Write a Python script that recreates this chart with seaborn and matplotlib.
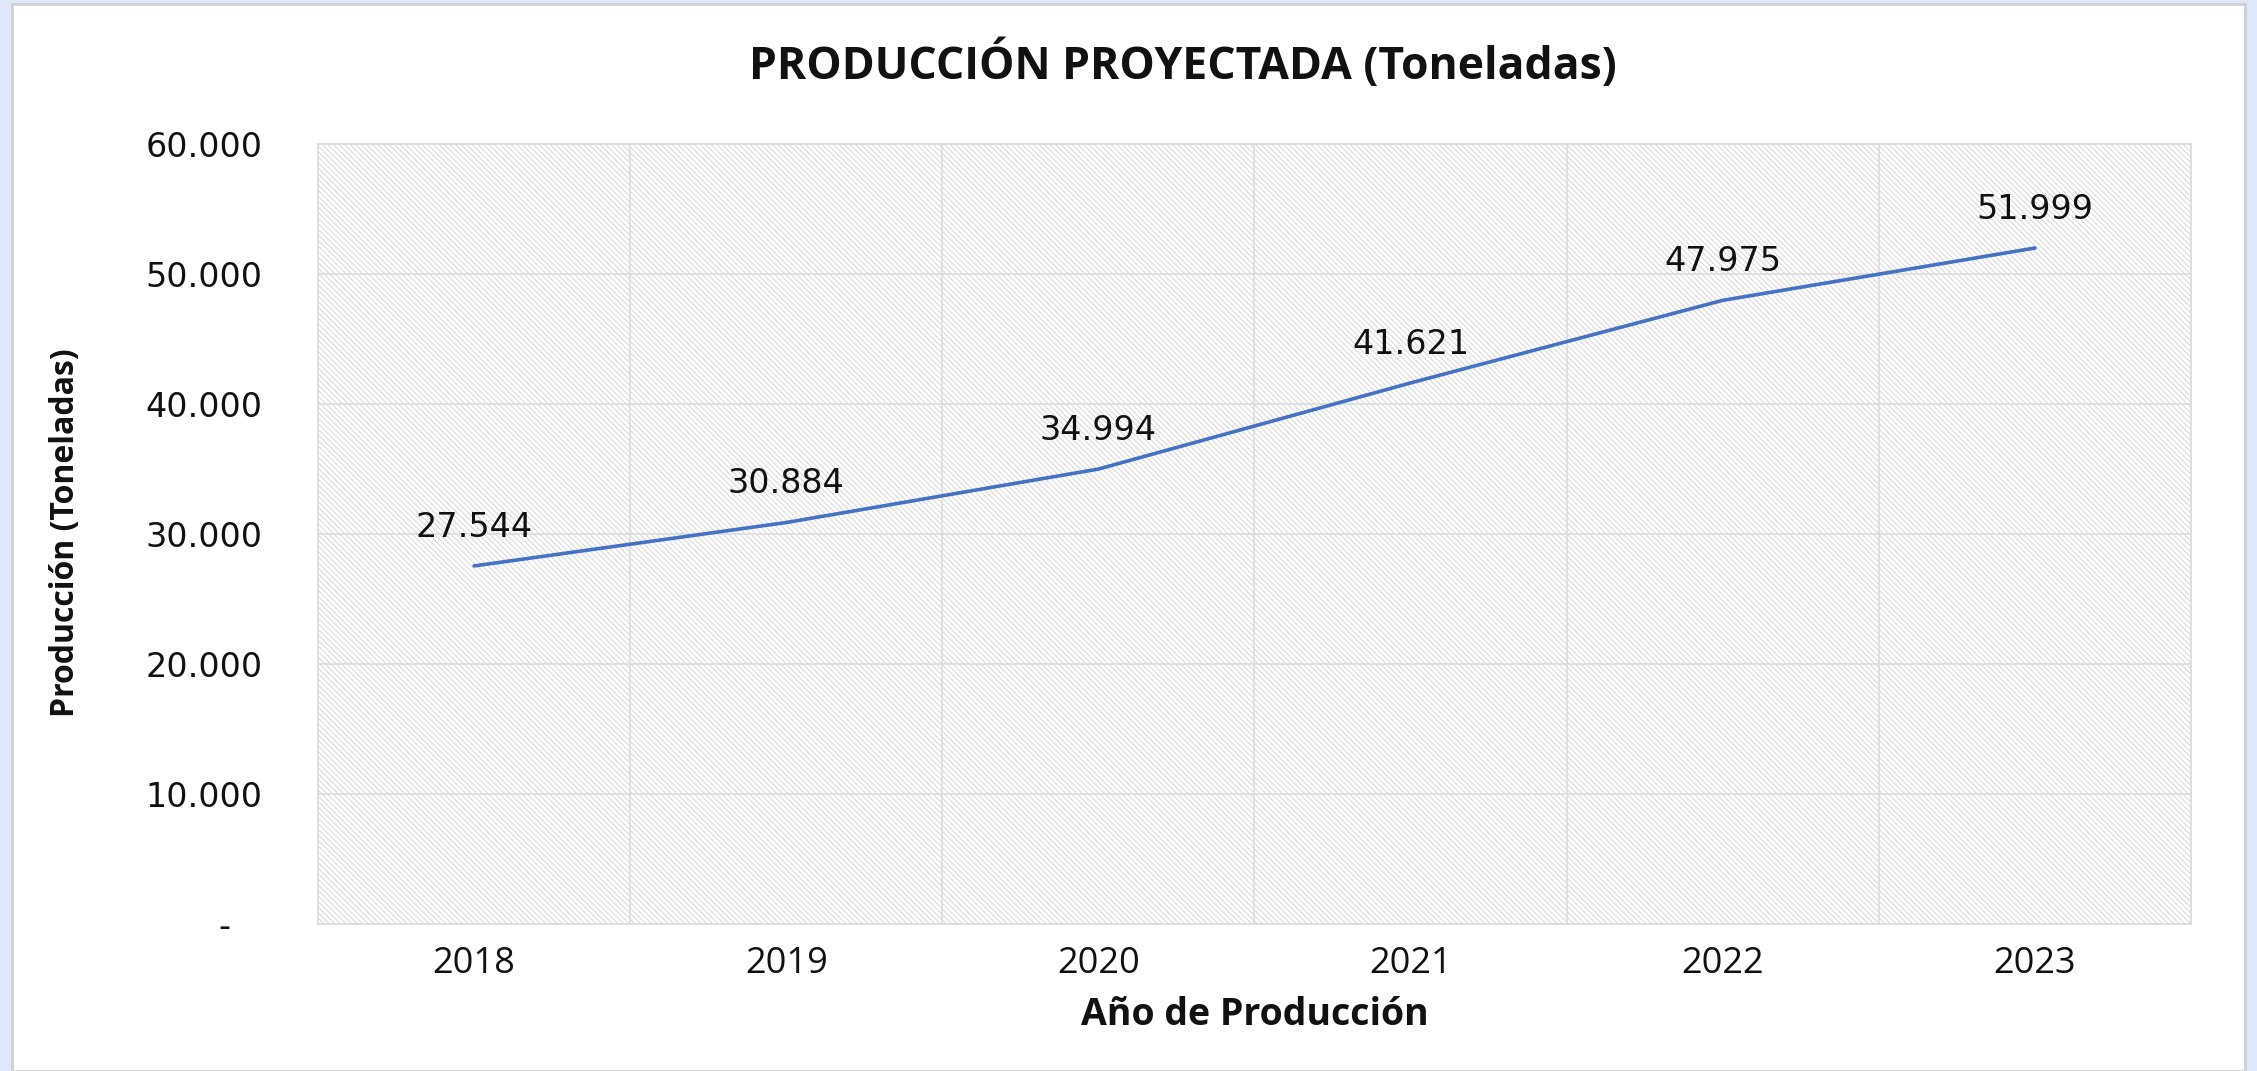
import matplotlib
matplotlib.use('Agg')
import matplotlib.pyplot as plt
import seaborn as sns
import pandas as pd
from matplotlib.patches import Rectangle

# Datos del gráfico
anios = ['2018', '2019', '2020', '2021', '2022', '2023']
produccion = [27544, 30884, 34994, 41621, 47975, 51999]
etiquetas_y = ['-   ', '10.000', '20.000', '30.000', '40.000', '50.000', '60.000']
valores_y = [0, 10000, 20000, 30000, 40000, 50000, 60000]

df = pd.DataFrame({'Año': anios, 'Producción': produccion})

sns.set_theme(style='white')
plt.rcParams['hatch.linewidth'] = 0.6
plt.rcParams['hatch.color'] = '#d0d0d0'

W, H = 2257, 1071
fig = plt.figure(figsize=(W / 100, H / 100), dpi=100, facecolor='#dde8f8')

# panel blanco del gráfico
fig.patches.append(Rectangle((12 / W, 0), (2245 - 12) / W, (H - 4) / H,
                             transform=fig.transFigure, facecolor='white',
                             edgecolor='#d0d0d0', linewidth=2, zorder=-10))

ax = fig.add_axes([318 / W, 1 - 924 / H, (2191 - 318) / W, (924 - 144) / H])
ax.set_zorder(2)
ax.set_facecolor('white')
ax.add_patch(Rectangle((0, 0), 1, 1, transform=ax.transAxes, facecolor='white',
                       edgecolor='#d0d0d0', hatch='\\\\\\\\\\\\', linewidth=0, zorder=0))

sns.lineplot(data=df, x='Año', y='Producción', ax=ax, color='#4472C4',
             linewidth=2.6, sort=False, zorder=3)

ax.set_xlim(-0.5, len(anios) - 0.5)
ax.set_ylim(0, 60000)
ax.set_yticks(valores_y)
ax.set_yticklabels(etiquetas_y, fontsize=24, family='DejaVu Sans', color='#111111')
ax.set_xticks(range(len(anios)))
ax.set_xticklabels(anios, fontsize=26, family='Open Sans', color='#111111')
ax.tick_params(axis='y', length=0, pad=40)
ax.tick_params(axis='x', length=0, pad=16)

# cuadrícula
for i in range(len(anios) - 1):
    ax.axvline(i + 0.5, color='#dcdcdc', linewidth=1.2, zorder=1)
for v in valores_y[1:-1]:
    ax.axhline(v, color='#dcdcdc', linewidth=1.2, zorder=1)
for s in ax.spines.values():
    s.set_color('#d9d9d9')
    s.set_linewidth(1.2)

for i, v in enumerate(produccion):
    ax.annotate(f'{v:,}'.replace(',', '.'), (i, v), xytext=(0, 28),
                textcoords='offset points', ha='center', va='center',
                fontsize=24, family='DejaVu Sans', color='#111111', zorder=4)

ax.set_xlabel('Año de Producción', fontsize=27, fontweight='bold',
              family='Open Sans', color='#111111', labelpad=10)
ax.set_ylabel('')
fig.text(66 / W, 1 - 533 / H, 'Producción (Toneladas)', rotation=90,
         ha='center', va='center', fontsize=23, fontweight='bold',
         family=['Liberation Sans Narrow', 'Open Sans'], color='#111111')

fig.text(1183 / W, 1 - 65 / H, 'PRODUCCIÓN PROYECTADA (Toneladas)',
         ha='center', va='center', fontsize=32, fontweight='bold',
         family='Open Sans', color='#111111')

fig.savefig('out.png', dpi=100, facecolor=fig.get_facecolor())
